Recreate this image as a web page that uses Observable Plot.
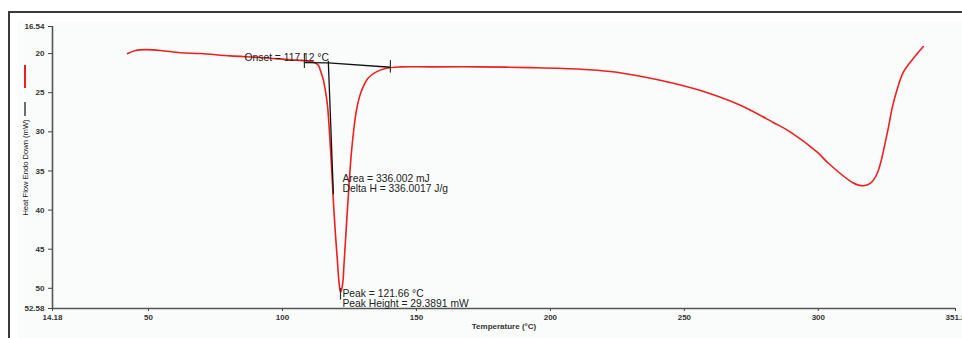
<!DOCTYPE html>
<html>
<head>
<meta charset="utf-8">
<script src="https://cdn.jsdelivr.net/npm/d3@7"></script>
<script src="https://cdn.jsdelivr.net/npm/@observablehq/plot@0.6"></script>
<style>
  html, body { margin: 0; padding: 0; background: #ffffff; }
  #wrap { position: relative; width: 962px; height: 338px; overflow: hidden; font-family: "Liberation Sans", Arial, sans-serif; }
  #frame { position: absolute; left: 8px; top: 11px; width: 1000px; height: 400px; border: 2px solid #3a3a3a; box-sizing: border-box; }
  #panel { position: absolute; left: 18px; top: 21px; width: 1000px; height: 400px; background: #fafbfb; }
  #chart { position: absolute; left: 0; top: 0; }
</style>
</head>
<body>
<div id="wrap">
  <div id="frame"></div>
  <div id="panel"></div>
  <div id="chart"></div>
</div>
<script>
// DSC curve: temperature (°C) and heat flow (mW)
const temperature = [42.2, 45.2, 48.9, 54.5, 62.0, 69.4, 80.6, 91.8, 103.0, 107.8, 111.6, 113.4, 114.2, 115.3, 116.0, 116.8, 117.5, 118.3, 119.0, 119.8, 120.5, 121.0, 121.66, 122.4, 123.0, 123.8, 124.7, 125.6, 126.6, 127.6, 128.7, 130.2, 132.1, 134.7, 138.4, 144.0, 155.2, 173.9, 192.5, 211.2, 222.4, 233.6, 245.9, 258.6, 270.9, 283.2, 289.5, 299.6, 303.4, 312.9, 316.8, 319.4, 322.0, 325.7, 327.6, 329.5, 331.7, 335.5, 339.2];
const heatFlow    = [20.0, 19.6, 19.5, 19.6, 19.9, 20.0, 20.3, 20.5, 20.8, 20.9, 21.1, 21.5, 22.2, 23.4, 24.7, 26.6, 29.8, 34.3, 38.8, 43.2, 46.4, 48.8, 50.5, 49.6, 46.8, 42.4, 37.6, 33.2, 29.8, 27.3, 25.6, 24.2, 23.1, 22.4, 21.9, 21.7, 21.7, 21.7, 21.8, 22.0, 22.3, 22.9, 23.8, 25.0, 26.6, 28.8, 30.0, 32.6, 33.9, 36.5, 36.9, 36.6, 35.3, 30.2, 26.9, 24.5, 22.4, 20.6, 19.1];

// Axis ticks
const xTicks = [14.18, 50, 100, 150, 200, 250, 300, 351.2];
const xTickLabels = ["14.18", "50", "100", "150", "200", "250", "300", "351.2"];
const yTicks = [16.54, 20, 25, 30, 35, 40, 45, 50, 52.58];
const yTickLabels = ["16.54", "20", "25", "30", "35", "40", "45", "50", "52.58"];

// Analysis results
const onsetT = 117.12;
const peakT = 121.66;
const baselineT = [108.2, 117.12, 140.3];
const baselineHF = [21.15, 21.2, 21.75];
const tangentT = [117.12, 119.0];
const tangentHF = [21.0, 37.9];
const annotationLabels = ["Onset = 117.12 °C", "Area = 336.002 mJ", "Delta H = 336.0017 J/g", "Peak = 121.66 °C", "Peak Height = 29.3891 mW"];

const curve = temperature.map((t, i) => ({t, hf: heatFlow[i]}));
const baseline = baselineT.map((t, i) => ({t, hf: baselineHF[i]}));
const tangent = tangentT.map((t, i) => ({t, hf: tangentHF[i]}));
const tickMarks = [
  {t: baselineT[0], y1: 20.0, y2: 21.9},
  {t: baselineT[2], y1: 20.9, y2: 22.5},
  {t: peakT, y1: 50.0, y2: 51.5}
];
const texts = [
  {t: 85.1, hf: 20.5, label: annotationLabels[0]},
  {t: peakT, hf: 35.96, label: annotationLabels[1]},
  {t: peakT, hf: 37.25, label: annotationLabels[2]},
  {t: peakT, hf: 50.65, label: annotationLabels[3]},
  {t: peakT, hf: 51.95, label: annotationLabels[4]}
];

const xMin = xTicks[0], xMax = xTicks[xTicks.length - 1];
const yMin = yTicks[0], yMax = yTicks[yTicks.length - 1];

const chart = Plot.plot({
  width: 962,
  height: 338,
  marginLeft: 52,
  marginRight: 7,
  marginTop: 26,
  marginBottom: 30,
  style: {background: "transparent", fontFamily: "Liberation Sans, Arial, sans-serif", overflow: "visible"},
  x: {domain: [xMin, xMax]},
  y: {domain: [yMin, yMax], reverse: true},
  marks: [
    Plot.axisX({ticks: xTicks, tickFormat: (d, i) => xTickLabels[i], tickSize: 3, tickPadding: 3, fontSize: 8, fill: "#333", stroke: "#444", label: null, fontWeight: "bold"}),
    Plot.axisY({ticks: yTicks, tickFormat: (d, i) => yTickLabels[i], tickSize: 4, tickPadding: 4, fontSize: 8, fill: "#333", stroke: "#444", label: null, fontWeight: "bold"}),
    Plot.ruleX([xMin], {stroke: "#555", strokeWidth: 1.6}),
    Plot.ruleY([yMax], {stroke: "#555", strokeWidth: 1.6}),
    Plot.line(curve, {x: "t", y: "hf", stroke: "#f01e1e", strokeWidth: 1.6, curve: "catmull-rom"}),
    Plot.line(baseline, {x: "t", y: "hf", stroke: "#111", strokeWidth: 1.3}),
    Plot.line(tangent, {x: "t", y: "hf", stroke: "#111", strokeWidth: 1.3}),
    Plot.ruleX(tickMarks, {x: "t", y1: "y1", y2: "y2", stroke: "#333", strokeWidth: 1.2}),
    Plot.text(texts, {x: "t", y: "hf", text: "label", textAnchor: "start", dx: 2, fontSize: 10.3, fill: "#222"}),
    Plot.text(["Temperature (°C)"], {frameAnchor: "bottom", dy: 20, fontSize: 8, fill: "#333", fontWeight: "bold"}),
    Plot.text(["Heat Flow Endo Down (mW)"], {frameAnchor: "left", textAnchor: "middle", dx: -27, dy: 0, rotate: -90, fontSize: 7.6, fill: "#222"})
  ]
});

document.getElementById("chart").appendChild(chart);

// legend swatches beside the y-axis title
const svg = d3.select(chart);
svg.append("line").attr("x1", 25).attr("x2", 25).attr("y1", 65).attr("y2", 88).attr("stroke", "#f01e1e").attr("stroke-width", 2);
svg.append("line").attr("x1", 25).attr("x2", 25).attr("y1", 102).attr("y2", 116).attr("stroke", "#222").attr("stroke-width", 1.3);
</script>
</body>
</html>
